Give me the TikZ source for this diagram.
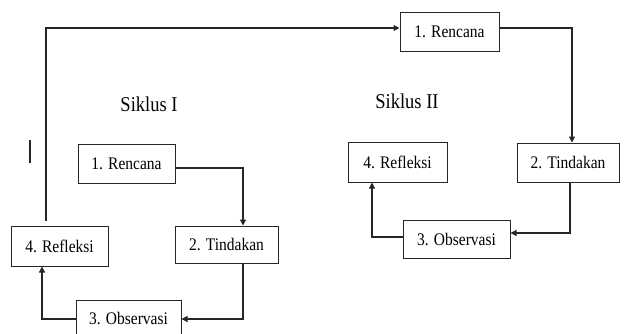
\documentclass[tikz,border=0pt]{standalone}
\usepackage{fontspec}
\setmainfont{Liberation Serif}
\usetikzlibrary{arrows.meta,calc}
\newcommand{\boxtxt}[1]{\scalebox{1}[1.14]{\fontsize{15.5}{18}\selectfont #1}}
\newcommand{\siktxt}[1]{\scalebox{1}[1.14]{\fontsize{18.5}{22}\selectfont #1}}
\begin{document}
\begin{tikzpicture}[x=1pt,y=-1pt,
  stagebox/.style={draw=black!85, line width=1pt, inner sep=0pt, align=center},
  arr/.style={draw=black!85, line width=1.2pt, -{Triangle[length=6pt,width=6pt]}},
  plain/.style={draw=black!85, line width=1.1pt}]
\useasboundingbox (0,0) rectangle (629,333);
% Siklus I
\node[stagebox, minimum width=97pt, minimum height=39pt] (r1) at (126.5,163.5) {\boxtxt{1. Rencana}};
\node[stagebox, minimum width=103pt, minimum height=37pt] (t1) at (226.5,244.5) {\boxtxt{2. Tindakan}};
\node[stagebox, minimum width=97pt, minimum height=40pt] (f1) at (59.5,246) {\boxtxt{4. Refleksi}};
\node[stagebox, minimum width=105pt, minimum height=36pt] (o1) at (128.5,318) {\boxtxt{3. Observasi}};
% Siklus II
\node[stagebox, minimum width=99pt, minimum height=39pt] (r2) at (449.5,31.5) {\boxtxt{1. Rencana}};
\node[stagebox, minimum width=102pt, minimum height=39pt] (t2) at (568,162.5) {\boxtxt{2. Tindakan}};
\node[stagebox, minimum width=99pt, minimum height=40pt] (f2) at (397.5,162) {\boxtxt{4. Refleksi}};
\node[stagebox, minimum width=107pt, minimum height=38pt] (o2) at (456.5,239) {\boxtxt{3. Observasi}};
% labels
\node (s1) at (149,104) {\siktxt{Siklus I}};
\node (s2) at (407,101) {\siktxt{Siklus II}};
% connectors Siklus I
\draw[arr] (r1.east |- 0,168) -| (t1.north -| 243,0);
\draw[arr] (t1.south -| 243,0) |- (o1.east |- 0,319);
\draw[arr] (o1.west |- 0,319) -| (f1.south -| 42,0);
\coordinate (f1top) at (46,221);
\draw[arr] (f1top) |- (r2.west |- 0,28);
% connectors Siklus II
\draw[arr] (r2.east |- 0,28) -| (t2.north -| 572,0);
\draw[arr] (t2.south -| 570,0) |- (o2.east |- 0,233);
\draw[arr] (o2.west |- 0,237) -| (f2.south -| 372,0);
% stray mark
\coordinate (m1) at (30,140);
\coordinate (m2) at (30,163);
\draw[plain] (m1) -- (m2);
\end{tikzpicture}
\end{document}
